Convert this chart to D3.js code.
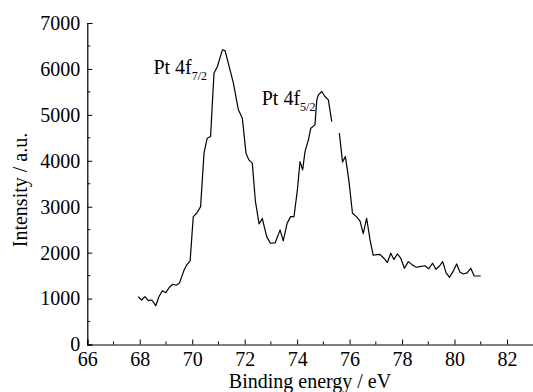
<!DOCTYPE html>
<html><head><meta charset="utf-8">
<script src="https://cdn.jsdelivr.net/npm/d3@7"></script>
<style>body{margin:0;background:#fff}svg{display:block}</style>
</head><body>
<script>
const energy = [67.94,68.07,68.20,68.33,68.46,68.61,68.73,68.86,68.99,69.13,69.26,69.38,69.51,69.60,69.69,69.79,69.92,70.04,70.17,70.32,70.45,70.57,70.70,70.83,70.96,71.15,71.25,71.41,71.57,71.76,71.91,72.05,72.16,72.29,72.41,72.55,72.67,72.84,72.98,73.16,73.35,73.47,73.62,73.75,73.88,74.01,74.11,74.21,74.30,74.43,74.52,74.68,74.75,74.81,74.94,75.06,75.19,75.32,75.45,75.61,75.73,75.84,75.97,76.11,76.26,76.40,76.52,76.65,76.78,76.90,77.03,77.16,77.28,77.44,77.57,77.69,77.82,77.95,78.09,78.24,78.40,78.54,78.68,78.87,79.02,79.16,79.29,79.42,79.55,79.68,79.81,79.94,80.08,80.21,80.34,80.48,80.62,80.75,80.88,81.00];
const intensity = [1041,969,1041,954,969,845,1041,1172,1128,1246,1312,1290,1333,1477,1623,1732,1819,2784,2858,3002,4166,4492,4527,5908,6052,6416,6401,6052,5691,5109,4928,4166,4020,3948,3115,2625,2745,2349,2205,2211,2495,2255,2641,2784,2784,3366,3983,3802,4200,4455,4710,4782,5327,5436,5508,5399,5327,4854,null,4601,3972,4092,3584,2858,2784,2686,2414,2749,2277,1943,1956,1961,1895,1786,1987,1852,1972,1878,1660,1804,1732,1682,1695,1715,1649,1769,1638,1704,1804,1558,1464,1586,1754,1575,1536,1558,1660,1492,1492,1492];
const xTicks = [66,68,70,72,74,76,78,80,82];
const yTicks = [0,1000,2000,3000,4000,5000,6000,7000];
const peakLabels = [{main:"Pt 4f", sub:"7/2", e:68.52, i:5880},{main:"Pt 4f", sub:"5/2", e:72.65, i:5210}];

const W=533,H=392;
const FONT='"Liberation Serif", "Times New Roman", Times, serif';
const fs="20px";
const svg=d3.select("body").append("svg").attr("width",W).attr("height",H)
  .attr("font-family",FONT).style("font-family",FONT);
const x=d3.scaleLinear().domain([66,83]).range([87.3,533.2]);
const y=d3.scaleLinear().domain([0,7000]).range([344.5,23]);

const data=energy.map((e,k)=>({e,i:intensity[k]}));
svg.append("path").datum(data)
 .attr("fill","none").attr("stroke","#000").attr("stroke-width",1.2).attr("stroke-linejoin","round")
 .attr("d",d3.line().defined(d=>d.i!==null).x(d=>x(d.e)).y(d=>y(d.i)));

const xAxis=svg.append("g").attr("transform",`translate(0,${y(0)})`)
 .call(d3.axisBottom(x).tickValues(xTicks).tickSize(-5).tickPadding(6).tickFormat(d3.format("d")));
xAxis.append("g").selectAll("line").data(d3.range(67,83,2)).join("line")
 .attr("x1",d=>x(d)).attr("x2",d=>x(d)).attr("y1",0).attr("y2",-3).attr("stroke","#000");
const yAxis=svg.append("g").attr("transform",`translate(${x(66)},0)`)
 .call(d3.axisLeft(y).tickValues(yTicks).tickSize(-5).tickPadding(7).tickFormat(d3.format("d")));
yAxis.append("g").selectAll("line").data(d3.range(500,7000,1000)).join("line")
 .attr("y1",d=>y(d)).attr("y2",d=>y(d)).attr("x1",0).attr("x2",3).attr("stroke","#000");
xAxis.attr("font-family",null).attr("font-size",null);
yAxis.attr("font-family",null).attr("font-size",null);
svg.selectAll(".domain").attr("stroke","#000").attr("stroke-width",1.2);
svg.selectAll(".tick line").attr("stroke","#000");
svg.selectAll(".tick text").style("font-family",FONT).style("font-size",fs).attr("fill","#000");
xAxis.selectAll(".tick text").attr("dy","0.75em");

svg.append("text").attr("x",310).attr("y",388).attr("text-anchor","middle")
 .style("font-family",FONT).style("font-size",fs).text("Binding energy / eV");
svg.append("text").attr("transform","translate(27,190) rotate(-90)").attr("text-anchor","middle")
 .style("font-family",FONT).style("font-size",fs).text("Intensity / a.u.");

peakLabels.forEach(p=>{
  const t=svg.append("text").attr("x",x(p.e)).attr("y",y(p.i)).style("font-family",FONT).style("font-size",fs);
  t.append("tspan").text(p.main);
  t.append("tspan").style("font-size","12px").attr("dy",6).text(p.sub);
});
</script>
</body></html>
